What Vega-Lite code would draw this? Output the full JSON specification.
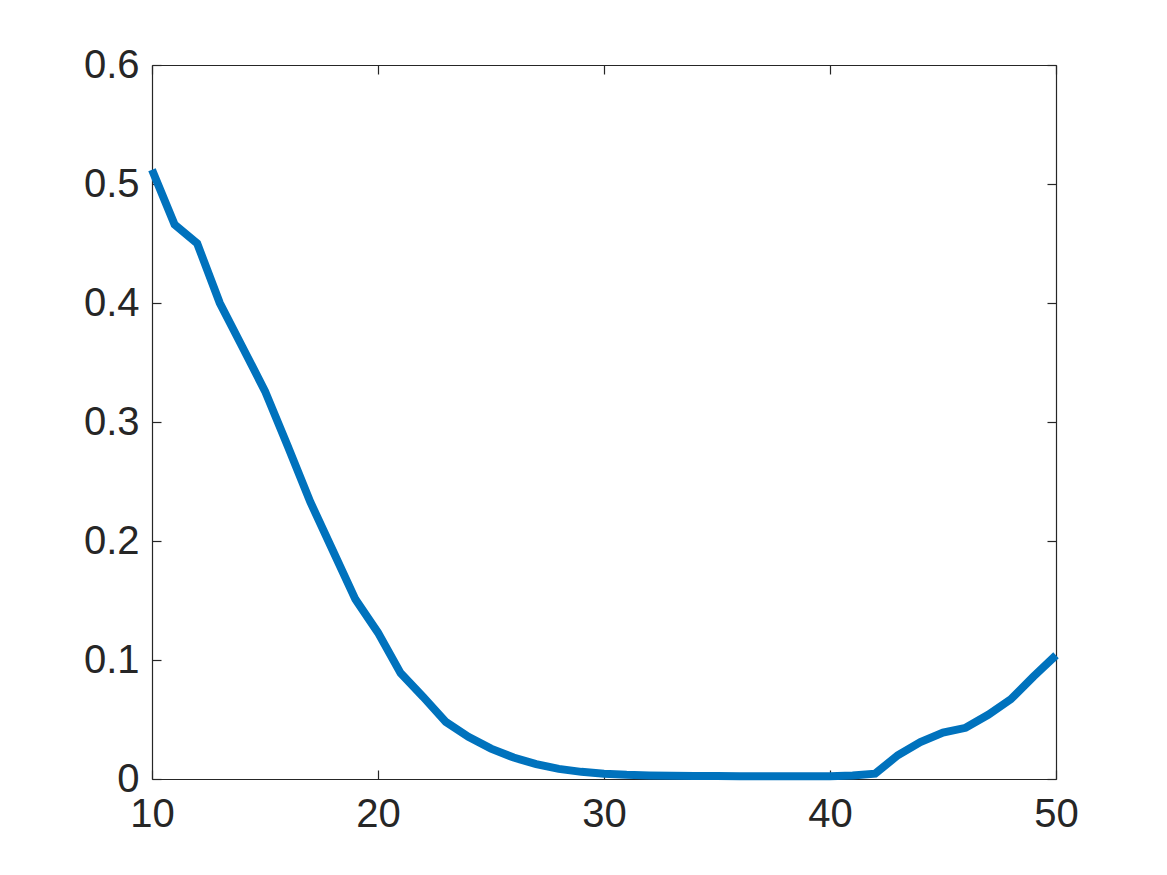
{
  "$schema": "https://vega.github.io/schema/vega-lite/v6.json",
  "autosize": "none",
  "width": 904,
  "height": 714,
  "padding": {"left": 152, "top": 65, "right": 111, "bottom": 96},
  "background": "white",
  "config": {
    "view": {"stroke": null},
    "axis": {
      "grid": false,
      "domainColor": "#262626",
      "domainWidth": 1.2,
      "tickColor": "#262626",
      "tickWidth": 1.2,
      "tickSize": -9,
      "labelFont": "Liberation Sans",
      "labelFontSize": 40,
      "labelColor": "#262626",
      "labelFlush": false,
      "labelOverlap": false,
      "title": null
    }
  },
  "data": {
    "values": [
      {"x": 10, "y": 0.512}, {"x": 11, "y": 0.466}, {"x": 12, "y": 0.450},
      {"x": 13, "y": 0.400}, {"x": 14, "y": 0.363}, {"x": 15, "y": 0.326},
      {"x": 16, "y": 0.280}, {"x": 17, "y": 0.233}, {"x": 18, "y": 0.192},
      {"x": 19, "y": 0.151}, {"x": 20, "y": 0.123}, {"x": 21, "y": 0.089},
      {"x": 22, "y": 0.069}, {"x": 23, "y": 0.048}, {"x": 24, "y": 0.0355},
      {"x": 25, "y": 0.0255}, {"x": 26, "y": 0.018}, {"x": 27, "y": 0.0125},
      {"x": 28, "y": 0.0085}, {"x": 29, "y": 0.006}, {"x": 30, "y": 0.0045},
      {"x": 31, "y": 0.0035}, {"x": 32, "y": 0.003}, {"x": 33, "y": 0.0028},
      {"x": 34, "y": 0.0026}, {"x": 35, "y": 0.0025}, {"x": 36, "y": 0.0024},
      {"x": 37, "y": 0.0023}, {"x": 38, "y": 0.0023}, {"x": 39, "y": 0.0023},
      {"x": 40, "y": 0.0024}, {"x": 41, "y": 0.003}, {"x": 42, "y": 0.0045},
      {"x": 43, "y": 0.020}, {"x": 44, "y": 0.031}, {"x": 45, "y": 0.039},
      {"x": 46, "y": 0.043}, {"x": 47, "y": 0.054}, {"x": 48, "y": 0.067},
      {"x": 49, "y": 0.086}, {"x": 50, "y": 0.104}
    ]
  },
  "layer": [
    {
      "mark": {"type": "line", "color": "#0072BD", "strokeWidth": 8, "clip": false},
      "encoding": {
        "x": {"field": "x", "type": "quantitative", "scale": {"domain": [10, 50], "nice": false, "zero": false},
              "axis": {"orient": "bottom", "values": [10, 20, 30, 40, 50], "labelPadding": 24}},
        "y": {"field": "y", "type": "quantitative", "scale": {"domain": [0, 0.6], "nice": false},
              "axis": {"orient": "left", "values": [0, 0.1, 0.2, 0.3, 0.4, 0.5, 0.6], "format": "~g", "labelPadding": 22}}
      }
    },
    {
      "mark": {"type": "line", "opacity": 0},
      "encoding": {
        "x": {"field": "x", "type": "quantitative", "scale": {"domain": [10, 50], "nice": false, "zero": false},
              "axis": {"orient": "top", "values": [10, 20, 30, 40, 50], "labels": false}},
        "y": {"field": "y", "type": "quantitative", "scale": {"domain": [0, 0.6], "nice": false},
              "axis": {"orient": "right", "values": [0, 0.1, 0.2, 0.3, 0.4, 0.5, 0.6], "labels": false}}
      }
    }
  ],
  "resolve": {"axis": {"x": "independent", "y": "independent"}}
}
